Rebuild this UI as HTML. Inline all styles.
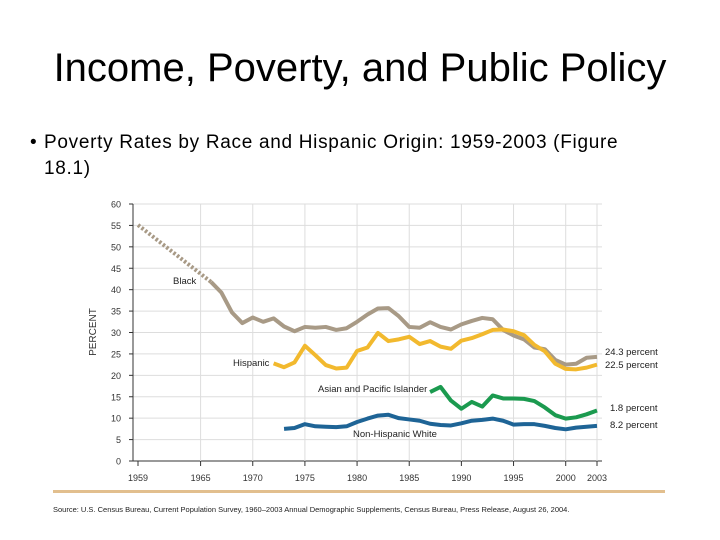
<!DOCTYPE html>
<html><head><meta charset="utf-8"><style>
body{margin:0;width:720px;height:540px;background:#fff;font-family:"Liberation Sans",sans-serif;overflow:hidden;position:relative}
#title{position:absolute;top:46px;left:0;width:720px;text-align:center;font-size:40px;color:#000}
#bullet{position:absolute;top:130px;left:30px;font-size:19px;letter-spacing:0.7px;line-height:26px;color:#000}
svg{position:absolute;left:0;top:0}
</style></head><body>
<div id="title">Income, Poverty, and Public Policy</div>
<div id="bullet"><span style="position:absolute;left:0">•</span><div style="margin-left:14px;width:660px">Poverty Rates by Race and Hispanic Origin: 1959-2003 (Figure<br>18.1)</div></div>
<svg id="chart" width="720" height="540"></svg>
<script>
const blackYears=[1959,1966,1967,1968,1969,1970,1971,1972,1973,1974,1975,1976,1977,1978,1979,1980,1981,1982,1983,1984,1985,1986,1987,1988,1989,1990,1991,1992,1993,1994,1995,1996,1997,1998,1999,2000,2001,2002,2003];
const blackVals=[55.1,41.8,39.3,34.7,32.2,33.5,32.5,33.3,31.4,30.3,31.3,31.1,31.3,30.6,31.0,32.5,34.2,35.6,35.7,33.8,31.3,31.1,32.4,31.3,30.7,31.9,32.7,33.4,33.1,30.6,29.3,28.4,26.5,26.1,23.6,22.5,22.7,24.1,24.3];
const hispStart=1972;
const hispVals=[22.8,21.9,23.0,26.9,24.7,22.4,21.6,21.8,25.7,26.5,29.9,28.0,28.4,29.0,27.3,28.0,26.7,26.2,28.1,28.7,29.6,30.6,30.7,30.3,29.4,27.1,25.6,22.7,21.5,21.4,21.8,22.5];
const asianStart=1987;
const asianVals=[16.1,17.3,14.1,12.2,13.8,12.7,15.3,14.6,14.6,14.5,14.0,12.5,10.7,9.9,10.2,10.9,11.8];
const whiteStart=1973;
const whiteVals=[7.5,7.7,8.6,8.1,8.0,7.9,8.1,9.1,9.9,10.6,10.8,10.0,9.7,9.4,8.7,8.4,8.3,8.8,9.4,9.6,9.9,9.4,8.5,8.6,8.6,8.2,7.7,7.4,7.8,8.0,8.2];
const xTicks=[1959,1965,1970,1975,1980,1985,1990,1995,2000,2003];
const yTicks=[0,5,10,15,20,25,30,35,40,45,50,55,60];

const svg=document.getElementById('chart');const NS='http://www.w3.org/2000/svg';
const X=y=>138+(y-1959)*(459/44);
const Y=v=>461-v*(257/60);
function mk(t,a){const e=document.createElementNS(NS,t);for(const k in a)e.setAttribute(k,a[k]);svg.appendChild(e);return e;}
yTicks.forEach(v=>{
 const g=mk('line',{x1:133,x2:602,y1:Y(v),y2:Y(v),stroke:v?'#ddd':'#333','stroke-width':1});
 
 
 mk('line',{x1:129,x2:133,y1:Y(v),y2:Y(v),stroke:'#333'});
 const t=mk('text',{x:121,y:Y(v)+3.5,'font-size':9,'text-anchor':'end',fill:'#333'});t.textContent=v;
 
 
});
mk('line',{x1:133,x2:133,y1:Y(60),y2:461,stroke:'#333'});
xTicks.forEach(yr=>{
 if(yr>1959)mk('line',{x1:X(yr),x2:X(yr),y1:Y(60),y2:461,stroke:'#ddd'});
 mk('line',{x1:X(yr),x2:X(yr),y1:461,y2:466,stroke:'#333'});
 const t=mk('text',{x:X(yr),y:481,'font-size':9,'text-anchor':'middle',fill:'#333'});t.textContent=yr;
 
 
});
const yl=mk('text',{x:96,y:332,'font-size':10,'text-anchor':'middle',fill:'#333',transform:'rotate(-90 96 332)'});yl.textContent='PERCENT';


function line(years,vals,color,name,dash){
 const p=mk('polyline',{points:years.map((y,i)=>X(y)+','+Y(vals[i])).join(' '),fill:'none',stroke:color,'stroke-width':4,'stroke-linejoin':'round'});
 if(dash)p.setAttribute('stroke-dasharray',dash);
 
 
}
line(blackYears.slice(0,2),blackVals.slice(0,2),'#a89a86','black-series-dotted','2.5 2');
line(blackYears.slice(1),blackVals.slice(1),'#a89a86','black-series');
line(hispVals.map((v,i)=>hispStart+i),hispVals,'#f2b92e','hispanic-series');
line(asianVals.map((v,i)=>asianStart+i),asianVals,'#1b9a4f','asian-series');
line(whiteVals.map((v,i)=>whiteStart+i),whiteVals,'#1e6496','white-series');
function lab(x,y,s,n,anchor){const t=mk('text',{x:x,y:y,'font-size':9.5,fill:'#222','text-anchor':anchor||'start'});t.textContent=s;
 
 }
lab(173,284,'Black','label-black');
lab(233,366,'Hispanic','label-hispanic');
lab(318,392,'Asian and Pacific Islander','label-asian');
lab(353,437,'Non-Hispanic White','label-white');
lab(605,355,'24.3 percent','end-label-black');
lab(605,368,'22.5 percent','end-label-hispanic');
lab(610,411,'1.8 percent','end-label-asian');
lab(610,428,'8.2 percent','end-label-white');
mk('rect',{x:53,y:490,width:612,height:3,fill:'#e2bf8e'});
const s=mk('text',{x:53,y:512,'font-size':7.5,fill:'#222'});s.textContent='Source: U.S. Census Bureau, Current Population Survey, 1960–2003 Annual Demographic Supplements, Census Bureau, Press Release, August 26, 2004.';


</script>
</body></html>
